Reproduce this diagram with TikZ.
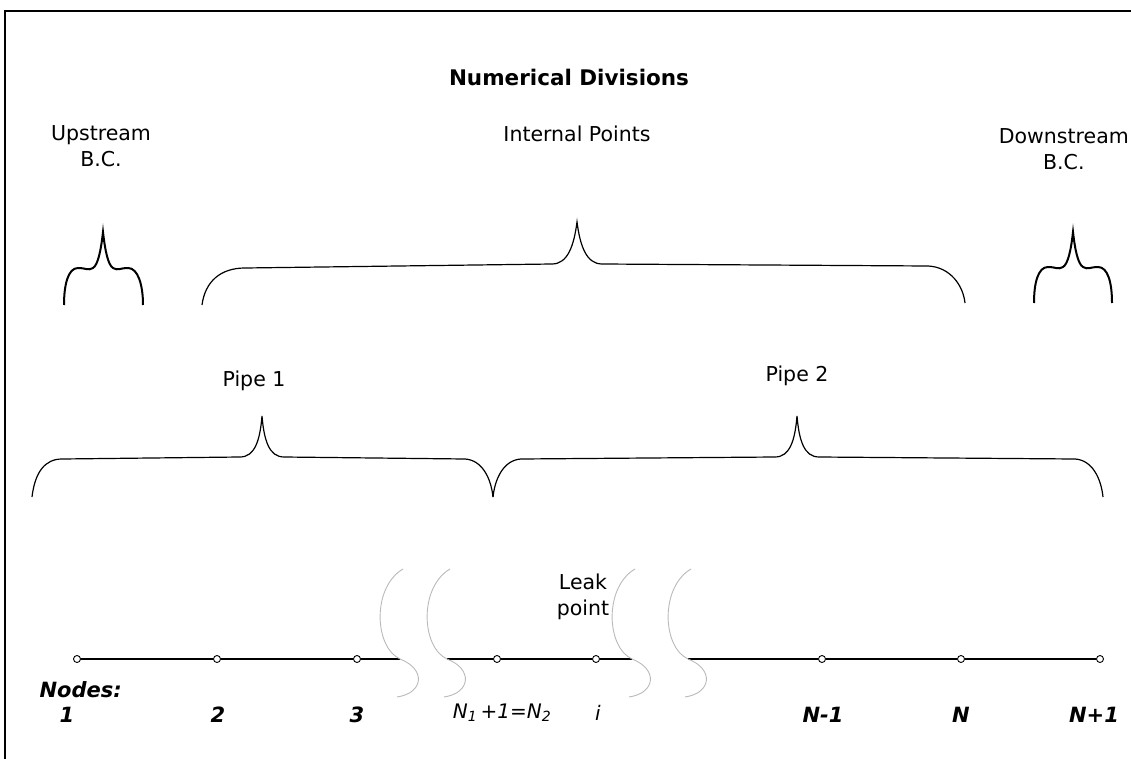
\documentclass[tikz,border=0pt]{standalone}
\usepackage{fontspec}
\setmainfont{DejaVu Sans}
\usetikzlibrary{positioning}
\tikzset{
  dot/.style={circle,draw,fill=white,inner sep=0pt,minimum size=7pt,line width=0.9pt},
  lbl/.style={font=\fontsize{20.5}{26}\selectfont},
  numlbl/.style={font=\bfseries\itshape\fontsize{21}{24}\selectfont},
  bigbrace/.style={line width=1.2pt},
  bcbrace/.style={line width=2pt},
  cutmark/.style={black!27,line width=0.9pt},
}
% S-shaped break mark through a point on the axis
\newcommand{\cutmarkat}[2]{%
  \draw[cutmark] (#1+3,#2-90) .. controls (#1-28,#2-72) and (#1-26,#2-12) .. (#1,#2)
    .. controls (#1+26,#2+10) and (#1+24,#2+34) .. (#1-3,#2+38);}

\begin{document}
\begin{tikzpicture}[x=1pt,y=-1pt]
  \useasboundingbox (0,0) rectangle (1131,759);
  \draw[line width=2pt] (5,759) -- (5,11) -- (1131,11);

  % titles
  \node[font=\bfseries\fontsize{21.5}{26}\selectfont] (title) at (569,77) {Numerical Divisions};
  \node[lbl,align=center] (upbc) at (101,146) {Upstream\\B.C.};
  \node[lbl] (intpts) at (577,134) {Internal Points};
  \node[lbl,align=center,anchor=east,inner sep=1pt] (downbc) at (1130,149) {Downstream\\B.C.};
  \node[lbl] (pipe1) at (254,381) {Pipe 1};
  \node[lbl] (pipe2) at (797,376) {Pipe 2};
  \node[lbl,align=center] (leak) at (583,597) {Leak\\point};

  % braces
  \draw[bcbrace] (64,305) .. controls (64,285) and (68,268) .. (78,268)
    .. controls (86,268) and (88,271) .. (93,268)
    .. controls (98,265) and (101,250) .. (103,232)
    .. controls (105,250) and (108,265) .. (113,268)
    .. controls (118,271) and (120,268) .. (128,268)
    .. controls (138,268) and (143,285) .. (143,305);
  \draw[bcbrace] (1034,303) .. controls (1034,283) and (1038,267) .. (1048,267)
    .. controls (1056,267) and (1058,270) .. (1063,267)
    .. controls (1068,264) and (1071,250) .. (1073,232)
    .. controls (1075,250) and (1078,264) .. (1083,267)
    .. controls (1088,270) and (1090,267) .. (1098,267)
    .. controls (1108,267) and (1112,283) .. (1112,303);
  \draw[bigbrace] (202,305) .. controls (205,282) and (220,268) .. (245,268)
    -- (552,264) .. controls (568,264) and (574,245) .. (577,222)
    .. controls (580,245) and (586,264) .. (602,264)
    -- (928,266) .. controls (950,267) and (963,285) .. (965,303);
  \draw[bigbrace] (32,497) .. controls (35,472) and (45,459) .. (62,459)
    -- (240,457) .. controls (255,457) and (260,440) .. (262,416)
    .. controls (264,440) and (269,457) .. (284,457)
    -- (465,459) .. controls (482,460) and (491,478) .. (493,497);
  \draw[bigbrace] (493,497) .. controls (495,478) and (504,460) .. (521,459)
    -- (775,457) .. controls (790,457) and (795,440) .. (797,416)
    .. controls (799,440) and (804,457) .. (819,457)
    -- (1075,459) .. controls (1092,460) and (1101,478) .. (1103,497);

  % axis with nodes
  \node[dot] (n1) at (77,659) {};
  \node[dot] (n2) at (217,659) {};
  \node[dot] (n3) at (357,659) {};
  \node[dot] (nleak) at (497,659) {};
  \node[dot] (ni) at (596,659) {};
  \node[dot] (nNm) at (822,659) {};
  \node[dot] (nN) at (961,659) {};
  \node[dot] (nNp) at (1100,659) {};
  \coordinate (cutA) at (400,659);
  \coordinate (cutB) at (447,659);
  \coordinate (cutC) at (632,659);
  \coordinate (cutD) at (688,659);
  \draw[line width=1.2pt] (n1) -- (n2) -- (n3) -- (cutA);
  \draw[line width=1.2pt] (cutB) -- (nleak) -- (ni) -- (cutC);
  \draw[line width=1.2pt] (cutD) -- (nNm) -- (nN) -- (nNp);
  \cutmarkat{400}{659}
  \cutmarkat{447}{659}
  \cutmarkat{632}{659}
  \cutmarkat{688}{659}

  % node numbers
  \node[numlbl,anchor=west] (nodestxt) at (36,690) {Nodes:};
  \node[numlbl] (l1) at (67,715) {1};
  \node[numlbl] (l2) at (218,715) {2};
  \node[numlbl] (l3) at (357,715) {3};
  \node[font=\itshape\fontsize{20}{24}\selectfont] (lleak) at (502,713) {N\textsubscript{1}\,+1=N\textsubscript{2}};
  \node[font=\itshape\fontsize{20}{24}\selectfont] (li) at (598,713) {i};
  \node[numlbl] (lNm) at (823,715) {N-1};
  \node[numlbl] (lN) at (961,715) {N};
  \node[numlbl] (lNp) at (1094,715) {N+1};
\end{tikzpicture}
\end{document}
